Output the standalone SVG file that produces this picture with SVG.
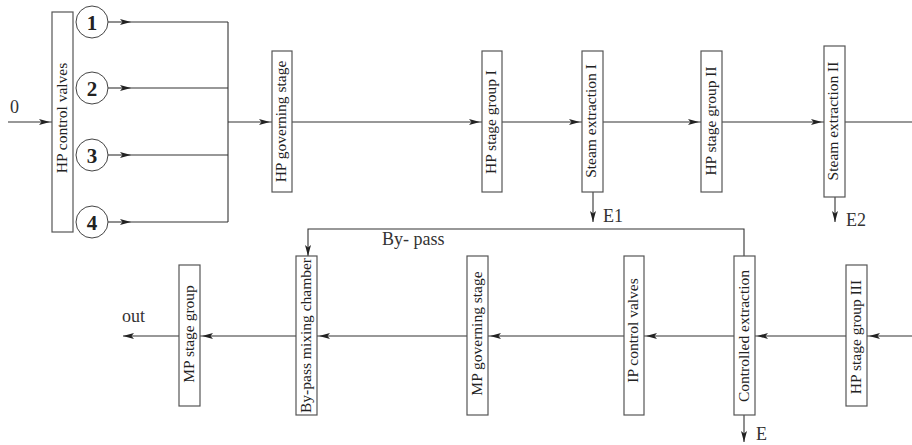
<svg xmlns="http://www.w3.org/2000/svg" width="912" height="445" viewBox="0 0 912 445">
<style>
  .box{fill:#fff;stroke:#555;stroke-width:1.2}
  .bt{font-family:"Liberation Serif","DejaVu Serif","Times New Roman",serif;font-size:15.5px;fill:#222;text-anchor:middle}
  .lb{font-family:"Liberation Serif","DejaVu Serif","Times New Roman",serif;font-size:18px;fill:#333}
  .ln{fill:none;stroke:#333;stroke-width:1.1}
  .cir{fill:#fff;stroke:#444;stroke-width:1}
  .num{font-family:"Liberation Serif","DejaVu Serif","Times New Roman",serif;font-size:21px;font-weight:bold;fill:#222;text-anchor:middle}
</style>
<defs>
  <marker id="arr" markerUnits="userSpaceOnUse" markerWidth="13" markerHeight="7" refX="13" refY="3.5" orient="auto">
    <path d="M0,0.5 L11,3.5 L0,6.5 L2.5,3.5 z" fill="#222"/>
  </marker>
  <marker id="arrm" markerUnits="userSpaceOnUse" markerWidth="11" markerHeight="7" refX="11" refY="3.5" orient="auto">
    <path d="M0,0.5 L11,3.5 L0,6.5 L2.5,3.5 z" fill="#222"/>
  </marker>
</defs>

<g id="connectors">
  <path class="ln" d="M8,122 H52" marker-end="url(#arr)"/>
  <path class="ln" d="M108,22 H131" marker-end="url(#arrm)"/>
  <path class="ln" d="M131,22 H228"/>
  <path class="ln" d="M108,88 H131" marker-end="url(#arrm)"/>
  <path class="ln" d="M131,88 H228"/>
  <path class="ln" d="M108,155 H131" marker-end="url(#arrm)"/>
  <path class="ln" d="M131,155 H228"/>
  <path class="ln" d="M108,222 H131" marker-end="url(#arrm)"/>
  <path class="ln" d="M131,222 H228"/>
  <path class="ln" d="M228,22 V222"/>
  <path class="ln" d="M228,122 H272" marker-end="url(#arr)"/>
  <path class="ln" d="M292,122 H482" marker-end="url(#arr)"/>
  <path class="ln" d="M502,122 H582" marker-end="url(#arr)"/>
  <path class="ln" d="M603,122 H701" marker-end="url(#arr)"/>
  <path class="ln" d="M722,122 H824" marker-end="url(#arr)"/>
  <path class="ln" d="M845,122 H912"/>
  <path class="ln" d="M593,192 V222" marker-end="url(#arrm)"/>
  <path class="ln" d="M835,197 V222" marker-end="url(#arrm)"/>
  <path class="ln" d="M744,256 V229 H308 V256" marker-end="url(#arrm)"/>
  <path class="ln" d="M744,415 V442" marker-end="url(#arrm)"/>
  <path class="ln" d="M912,336 H867" marker-end="url(#arr)"/>
  <path class="ln" d="M846,336 H755" marker-end="url(#arr)"/>
  <path class="ln" d="M734,336 H644" marker-end="url(#arr)"/>
  <path class="ln" d="M624,336 H488" marker-end="url(#arr)"/>
  <path class="ln" d="M467,336 H317" marker-end="url(#arr)"/>
  <path class="ln" d="M296,336 H200" marker-end="url(#arr)"/>
  <path class="ln" d="M179,336 H123" marker-end="url(#arrm)"/>
</g>

<g id="labels">
  <text class="lb" x="10" y="113">0</text>
  <text class="lb" x="603" y="222">E1</text>
  <text class="lb" x="846" y="226">E2</text>
  <text class="lb" x="756" y="440">E</text>
  <text class="lb" x="122" y="322">out</text>
  <text class="lb" x="382" y="245">By- pass</text>
</g>

<g id="hp-control-valves">
  <rect class="box" x="52" y="12" width="21" height="220"/>
  <text class="bt" transform="translate(62.5,118) rotate(-90)" dy="4.5">HP control valves</text>
</g>
<g id="valve-1"><circle class="cir" cx="92" cy="22" r="16"/><text class="num" x="92" y="29.5">1</text></g>
<g id="valve-2"><circle class="cir" cx="92" cy="88" r="16"/><text class="num" x="92" y="95.5">2</text></g>
<g id="valve-3"><circle class="cir" cx="92" cy="155" r="16"/><text class="num" x="92" y="162.5">3</text></g>
<g id="valve-4"><circle class="cir" cx="92" cy="222" r="16"/><text class="num" x="92" y="229.5">4</text></g>

<g id="hp-governing-stage">
  <rect class="box" x="272" y="51" width="20" height="141"/>
  <text class="bt" transform="translate(282,121.5) rotate(-90)" dy="4">HP governing stage</text>
</g>
<g id="hp-stage-group-1">
  <rect class="box" x="482" y="51" width="20" height="141"/>
  <text class="bt" transform="translate(492,122) rotate(-90)" dy="4">HP stage group I</text>
</g>
<g id="steam-extraction-1">
  <rect class="box" x="582" y="51" width="21" height="141"/>
  <text class="bt" transform="translate(592.5,121) rotate(-90)" dy="3.5">Steam extraction I</text>
</g>
<g id="hp-stage-group-2">
  <rect class="box" x="701" y="51" width="21" height="141"/>
  <text class="bt" transform="translate(711.5,121) rotate(-90)" dy="4">HP stage group II</text>
</g>
<g id="steam-extraction-2">
  <rect class="box" x="824" y="46" width="21" height="151"/>
  <text class="bt" transform="translate(834.5,121) rotate(-90)" dy="3.5">Steam extraction II</text>
</g>

<g id="mp-stage-group">
  <rect class="box" x="179" y="265" width="21" height="141"/>
  <text class="bt" transform="translate(189.5,334) rotate(-90)" dy="4">MP stage group</text>
</g>
<g id="bypass-mixing-chamber">
  <rect class="box" x="296" y="256" width="21" height="159"/>
  <text class="bt" transform="translate(306.5,335.5) rotate(-90)" dy="4">By-pass mixing chamber</text>
</g>
<g id="mp-governing-stage">
  <rect class="box" x="467" y="256" width="21" height="159"/>
  <text class="bt" transform="translate(477.5,333.5) rotate(-90)" dy="4">MP governing stage</text>
</g>
<g id="ip-control-valves">
  <rect class="box" x="624" y="256" width="20" height="159"/>
  <text class="bt" transform="translate(634,330.5) rotate(-90)" dy="4">IP control valves</text>
</g>
<g id="controlled-extraction">
  <rect class="box" x="734" y="256" width="21" height="159"/>
  <text class="bt" transform="translate(744.5,336) rotate(-90)" dy="4">Controlled extraction</text>
</g>
<g id="hp-stage-group-3">
  <rect class="box" x="846" y="265" width="21" height="141"/>
  <text class="bt" transform="translate(856.5,337) rotate(-90)" dy="4">HP stage group III</text>
</g>
</svg>
